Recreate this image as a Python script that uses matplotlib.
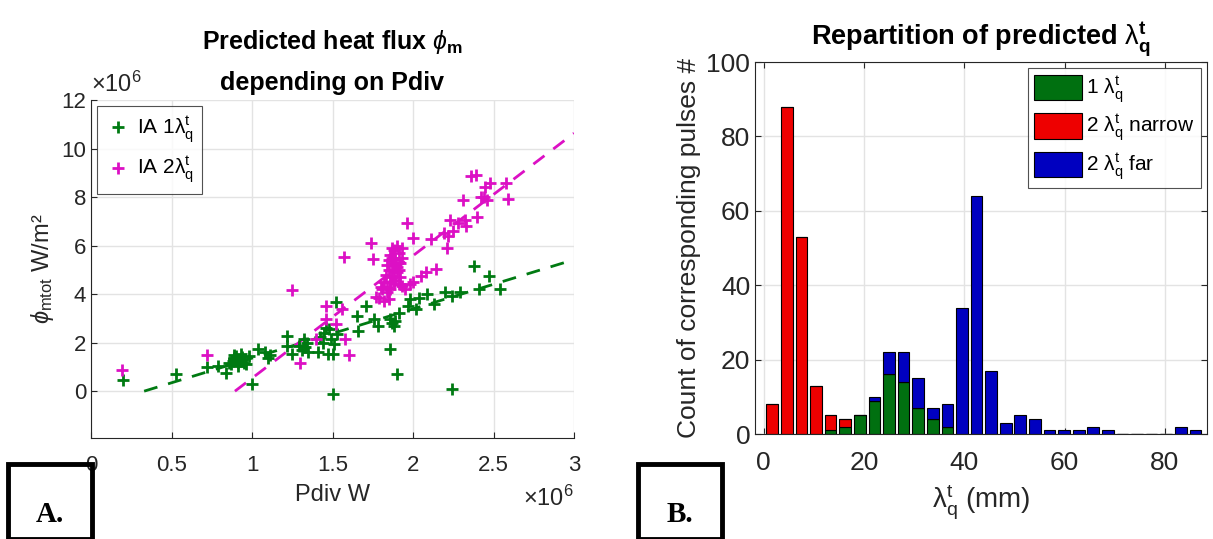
import numpy as np
import matplotlib
matplotlib.use('Agg')
import matplotlib.pyplot as plt
from matplotlib.patches import Rectangle

plt.rcParams['font.family'] = ['Liberation Sans', 'DejaVu Sans']
plt.rcParams['mathtext.fontset'] = 'custom'
plt.rcParams['mathtext.rm'] = 'Liberation Sans'
plt.rcParams['mathtext.it'] = 'Liberation Sans:italic'
plt.rcParams['mathtext.bf'] = 'Liberation Sans:bold'

# ---- panel A data (x in 1e6 W, y in 1e6 W/m2) ----
ia1_x = [0.20, 0.53, 0.72, 0.79, 0.84, 0.87, 0.88, 0.89, 0.90, 0.91, 0.92, 0.93, 0.91, 0.94, 0.86,
         0.90, 0.95, 0.93, 0.89, 0.96, 0.98, 1.04, 1.00, 1.08, 1.10, 1.11, 1.22, 1.22, 1.25, 1.29,
         1.32, 1.33, 1.31, 1.35, 1.34, 1.41, 1.45, 1.47, 1.44, 1.46, 1.52, 1.49, 1.51, 1.50, 1.50,
         1.53, 1.42, 1.48, 1.65, 1.66, 1.71, 1.76, 1.78, 1.86, 1.87, 1.86, 1.90, 1.91, 1.97, 1.98,
         2.04, 2.02, 2.09, 2.13, 2.20, 2.24, 2.29, 2.24, 2.41, 2.47, 2.54, 2.38, 1.88, 1.89]
ia1_y = [0.48, 0.69, 1.00, 1.02, 0.76, 1.10, 1.24, 1.36, 1.45, 1.20, 1.30, 1.55, 1.05, 1.40, 1.18,
         1.30, 1.15, 1.25, 1.50, 1.10, 1.45, 1.72, 0.28, 1.60, 1.38, 1.50, 2.28, 1.86, 1.52, 1.86,
         2.14, 1.80, 1.70, 1.60, 2.00, 1.60, 2.41, 1.52, 2.00, 2.62, 3.66, 2.14, 1.93, 1.52, -0.10,
         2.34, 2.25, 2.55, 3.10, 2.48, 3.52, 2.97, 2.69, 1.72, 2.83, 2.97, 0.72, 3.24, 3.52, 3.79,
         3.86, 3.38, 4.00, 3.59, 4.07, 3.93, 4.07, 0.11, 4.20, 4.76, 4.20, 5.14, 2.70, 2.90]

ia2_x = [0.19, 0.72, 1.30, 1.25, 1.60, 1.46, 1.52, 1.56, 1.46, 1.58, 1.40, 1.79, 1.82, 1.81, 1.98,
         2.00, 2.05, 2.08, 2.14, 1.57, 1.75, 1.74, 1.96, 2.00, 2.11, 2.22, 2.21, 2.23, 2.28, 2.32,
         2.33, 2.31, 2.40, 2.36, 2.39, 2.42, 2.45, 2.46, 2.48, 2.58, 2.59, 2.44, 2.25, 2.19,
         1.84, 1.86, 1.87, 1.88, 1.85, 1.87, 1.89, 1.86, 1.88, 1.90, 1.91, 1.92, 1.90, 1.89, 1.91,
         1.83, 1.85, 1.87, 1.93, 1.90, 1.88, 1.86, 1.92, 1.84, 1.89, 1.91, 1.87, 1.93, 1.82, 1.80,
         1.88, 1.93, 1.95, 1.84, 1.77, 1.85]
ia2_y = [0.86, 1.48, 1.17, 4.17, 1.48, 2.97, 2.76, 3.38, 3.52, 2.14, 2.14, 3.86, 3.70, 4.20, 4.41,
         4.50, 4.76, 4.90, 5.03, 5.51, 5.46, 6.10, 6.92, 6.33, 6.27, 6.38, 5.90, 7.06, 6.95, 7.06,
         6.79, 7.88, 7.17, 8.85, 8.91, 8.02, 8.43, 7.88, 8.57, 8.57, 7.93, 8.00, 6.60, 6.50,
         4.30, 4.50, 4.70, 4.90, 5.00, 5.20, 5.40, 5.60, 5.80, 6.00, 5.70, 5.30, 5.10, 4.60, 4.40,
         4.80, 5.40, 5.90, 5.90, 4.90, 4.40, 4.20, 4.70, 5.20, 5.30, 5.00, 5.50, 5.50, 4.50, 4.30,
         4.55, 4.34, 4.20, 4.10, 3.90, 3.80]

fit1_x = [0.33, 3.0]
fit1_y = [0.0, 5.42]
fit2_x = [0.894, 3.0]
fit2_y = [0.0, 10.63]

# ---- panel B data: histogram of lambda_q^t (mm), 30 bins ----
bin_edges = np.linspace(0.28, 87.55, 31)
count_one = [0, 0, 0, 0, 1, 2, 5, 9, 16, 14, 7, 4, 2, 0, 0, 0, 0, 0, 0, 0, 0, 0, 0, 0, 0, 0, 0, 0, 0, 0]
count_narrow = [8, 88, 53, 13, 4, 2, 0, 0, 0, 0, 0, 0, 0, 0, 0, 0, 0, 0, 0, 0, 0, 0, 0, 0, 0, 0, 0, 0, 0, 0]
count_far = [0, 0, 0, 0, 0, 0, 0, 1, 6, 8, 8, 3, 6, 34, 64, 17, 3, 5, 4, 1, 1, 1, 2, 1, 0, 0, 0, 0, 2, 1]

green = '#007a12'
magenta = '#dc10c4'
tickc = '#262626'
gridc = '#e3e3e3'
lam = r'$\mathrm{\lambda}_\mathrm{q}^\mathrm{t}$'

fig = plt.figure(figsize=(12.13, 5.39), dpi=100)

# ---------------- panel A ----------------
ax1 = fig.add_axes([91 / 1213, 1 - 438 / 539, 483 / 1213, 338 / 539])
ax1.plot(fit1_x, np.array(fit1_y), '--', color=green, lw=2, dashes=(5, 4))
ax1.plot(fit2_x, np.array(fit2_y), '--', color=magenta, lw=2, dashes=(5, 4))
ax1.plot(ia1_x, ia1_y, '+', color=green, ms=8, mew=2, label='IA 1' + lam)
ax1.plot(ia2_x, ia2_y, '+', color=magenta, ms=8, mew=2, label='IA 2' + lam)
ax1.set_xlim(0, 3)
ax1.set_ylim(-1.93, 12)
ax1.set_xticks([0, 0.5, 1, 1.5, 2, 2.5, 3])
ax1.set_xticklabels(['0', '0.5', '1', '1.5', '2', '2.5', '3'])
ax1.set_yticks([0, 2, 4, 6, 8, 10, 12])
ax1.grid(True, color=gridc, lw=1)
ax1.set_axisbelow(True)
for s in ['top', 'right']:
    ax1.spines[s].set_visible(False)
for s in ['left', 'bottom']:
    ax1.spines[s].set_color(tickc)
ax1.tick_params(direction='in', labelsize=16, colors=tickc, length=4)
ax1.tick_params(axis='x', pad=12)
ax1.set_xlabel('Pdiv W', fontsize=17, color=tickc, labelpad=6)
ax1.set_ylabel(r'$\phi_\mathrm{mtot}$ W/m²', fontsize=17, color=tickc)
fig.text(332 / 1213, 1 - 42 / 539, 'Predicted heat flux $\\phi_\\mathbf{m}$', fontsize=18,
         fontweight='bold', ha='center', va='center')
fig.text(332 / 1213, 1 - 83 / 539, 'depending on Pdiv', fontsize=18,
         fontweight='bold', ha='center', va='center')
ax1.text(0.0, 1.01, r'$\times10^6$', transform=ax1.transAxes, fontsize=17, color=tickc,
         ha='left', va='bottom')
ax1.text(1.0, -0.14, r'$\times10^6$', transform=ax1.transAxes, fontsize=17, color=tickc,
         ha='right', va='top')
leg1 = ax1.legend(loc='upper left', fontsize=15, frameon=True, fancybox=False,
                  edgecolor=tickc, handletextpad=0.3, borderaxespad=0.3, handlelength=1.2)
leg1.get_frame().set_linewidth(0.8)

# ---------------- panel B ----------------
ax2 = fig.add_axes([755 / 1213, 1 - 434 / 539, 452 / 1213, 372 / 539])
centers = (bin_edges[:-1] + bin_edges[1:]) / 2
bw = (bin_edges[1] - bin_edges[0]) * 0.8
c1 = np.array(count_one)
c2 = np.array(count_narrow)
c3 = np.array(count_far)
ax2.bar(centers, c1, bw, color='#007010', edgecolor='black', lw=0.8, label='1 ' + lam)
ax2.bar(centers, c2, bw, bottom=c1, color='#ee0000', edgecolor='black', lw=0.8,
        label='2 ' + lam + ' narrow')
ax2.bar(centers, c3, bw, bottom=c1 + c2, color='#0000c0', edgecolor='black', lw=0.8,
        label='2 ' + lam + ' far')
ax2.set_xlim(-1.7, 88.4)
ax2.set_ylim(0, 100)
ax2.set_xticks([0, 20, 40, 60, 80])
ax2.set_yticks([0, 20, 40, 60, 80, 100])
ax2.grid(True, color=gridc, lw=1)
ax2.set_axisbelow(True)
for s in ax2.spines.values():
    s.set_color(tickc)
ax2.tick_params(direction='in', labelsize=19, colors=tickc, length=4, top=True, right=True)
ax2.tick_params(axis='x', pad=12)
ax2.set_xlabel(lam + ' (mm)', fontsize=20, color=tickc, labelpad=6)
ax2.set_ylabel('Count of corresponding pulses #', fontsize=19, color=tickc)
ax2.set_title(r'Repartition of predicted $\mathrm{\lambda}_\mathbf{q}^\mathbf{t}$', fontsize=19.5,
              fontweight='bold', pad=12)
leg2 = ax2.legend(loc='upper right', fontsize=15, frameon=True, fancybox=False,
                  edgecolor=tickc, handlelength=2.3, handleheight=1.5, handletextpad=0.2,
                  borderaxespad=0.3, labelspacing=0.4, borderpad=0.3)
leg2.get_frame().set_linewidth(0.8)

# panel letters
for x0, lab in [(8, 'A.'), (638, 'B.')]:
    fig.patches.append(Rectangle((x0 / 1213, 0), 84 / 1213, 75 / 539, transform=fig.transFigure,
                                 fill=False, edgecolor='black', lw=3.5))
    fig.text((x0 + 42) / 1213, 0.045, lab, fontsize=21, fontweight='bold',
             family='Liberation Serif', ha='center', va='center')

fig.savefig('out.png', dpi=100)
